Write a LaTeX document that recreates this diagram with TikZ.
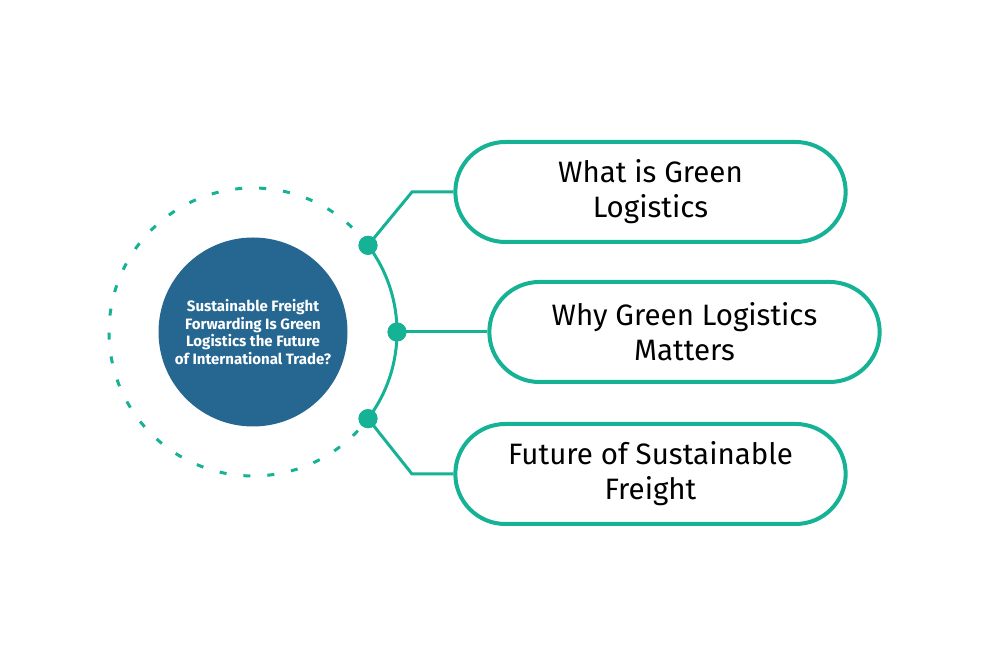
\documentclass[tikz,border=0pt]{standalone}
\usepackage{fontspec}
\setmainfont{Fira Sans}
\usetikzlibrary{calc,shapes.misc}
\definecolor{leafteal}{RGB}{22,178,150}
\definecolor{hubblue}{RGB}{38,103,146}

\begin{document}
\begin{tikzpicture}[x=1pt, y=1pt,
    pill/.style={draw=leafteal, line width=4pt, rounded rectangle, fill=white,
                 minimum width=397pt, minimum height=100pt, align=center,
                 font=\fontsize{29.5}{35}\selectfont},
    knot/.style={circle, fill=leafteal, inner sep=0pt, minimum size=19pt},
    link/.style={leafteal, line width=3pt}] % pixel units, y up
                \useasboundingbox (0,0) rectangle (998,652);
                \pgfmathsetmacro{\ringr}{144}

                % Outer ring: dashed on the left, solid between the knots
                \coordinate (hub) at (253,320);
                \draw[leafteal, line width=3pt, dash pattern=on 7pt off 17pt]
                    ($(hub)+(37:\ringr)$) arc[start angle=37, end angle=323, radius=\ringr];
                \draw[link] ($(hub)+(-37:\ringr)$) arc[start angle=-37, end angle=37, radius=\ringr];

                % Centre circle
                \node[circle, fill=hubblue, minimum size=189pt, inner sep=0pt, align=center,
                      text=white, font=\bfseries\fontsize{15}{17.5}\selectfont] (core) at (hub)
                    {Sustainable Freight\\Forwarding Is Green\\Logistics the Future\\of International Trade?};

                % Topic pills
                \node[pill] (p1) at (650.5,460) {What is Green\\Logistics};
                \node[pill] (p2) at (684.5,320) {Why Green Logistics\\Matters};
                \node[pill] (p3) at (650.5,178) {Future of Sustainable\\Freight};

                % Knots on the ring
                \foreach \a/\n in {37/1, 0/2, -37/3} {
                \node[knot] (k\n) at ($(hub)+(\a:\ringr)$) {};
                }

                % Connectors
                \coordinate (e1) at (412,460);
                \coordinate (e3) at (412,178);
                \draw[link] (k1.center) -- (e1) -- (p1.west);
                \draw[link] (k2.center) -- (p2.west);
                \draw[link] (k3.center) -- (e3) -- (p3.west);
                \foreach \n in {1,2,3} {
                \node[knot] at (k\n) {};
                }

            \end{tikzpicture}
\end{document}
